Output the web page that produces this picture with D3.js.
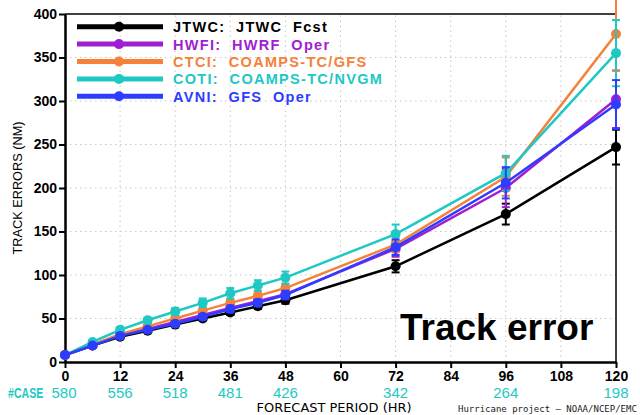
<!DOCTYPE html>
<html>
<head>
<meta charset="utf-8">
<script src="https://cdn.jsdelivr.net/npm/d3@7"></script>
<style>
  html, body { margin: 0; padding: 0; background: #fff; }
  svg { display: block; }
  text { font-family: "Liberation Sans", Arial, sans-serif; }
</style>
</head>
<body>
<svg id="chart" width="640" height="415"></svg>
<script>
// Forecast lead times (hours) and homogeneous case counts
const hours = [0, 6, 12, 18, 24, 30, 36, 42, 48, 72, 96, 120];
const caseHours = [0, 12, 24, 36, 48, 72, 96, 120];
const caseCounts = [580, 556, 518, 481, 426, 342, 264, 198];

// Mean track errors (NM) per model
const jtwc = [8, 19, 29, 36, 43, 50, 57, 64, 71, 110, 170, 247];
const hwfi = [8, 19, 31, 38, 46, 54, 62, 70, 78, 130, 200, 302];
const ctci = [8, 20, 32, 41, 50, 59, 68, 76, 85, 135, 213, 377];
const coti = [8, 23, 37, 48, 58, 68, 79, 88, 97, 147, 217, 355];
const avni = [8, 19, 30, 37, 44, 52, 61, 68, 77, 132, 206, 296];

// Half-width of the confidence bars (NM)
const jtwcErr = [1, 1, 2, 2, 2, 2, 3, 3, 4, 7, 12, 20];
const hwfiErr = [1, 1, 2, 2, 3, 3, 4, 4, 5, 9, 22, 33];
const ctciErr = [1, 1, 2, 2, 3, 3, 4, 5, 5, 9, 22, 42];
const cotiErr = [1, 2, 3, 3, 4, 5, 6, 6, 7, 11, 20, 38];
const avniErr = [1, 1, 2, 2, 3, 3, 4, 4, 5, 9, 18, 28];

const xTicks = [0, 12, 24, 36, 48, 60, 72, 84, 96, 108, 120];
const yTicks = [0, 50, 100, 150, 200, 250, 300, 350, 400];

const series = [
  { label: "JTWC:  JTWC  Fcst", color: "#000000", values: jtwc, err: jtwcErr },
  { label: "HWFI:  HWRF  Oper", color: "#a01ed2", values: hwfi, err: hwfiErr },
  { label: "CTCI:  COAMPS-TC/GFS", color: "#f5823a", values: ctci, err: ctciErr },
  { label: "COTI:  COAMPS-TC/NVGM", color: "#1ec8c3", values: coti, err: cotiErr },
  { label: "AVNI:  GFS  Oper", color: "#2d3cff", values: avni, err: avniErr }
];

const svg = d3.select("#chart");
const margin = { left: 65, right: 24, top: 14, bottom: 53 };
const W = 640, H = 415;
const x = d3.scaleLinear().domain([0, 120]).range([margin.left, W - margin.right]);
const y = d3.scaleLinear().domain([0, 400]).range([H - margin.bottom, margin.top]);

// dotted grid
const grid = svg.append("g");
grid.selectAll("line.gx").data(xTicks.slice(1, -1)).join("line")
  .attr("x1", d => x(d)).attr("x2", d => x(d))
  .attr("y1", y(0)).attr("y2", y(400))
  .attr("stroke", "#c8c8c8").attr("stroke-width", 1).attr("stroke-dasharray", "1.5,3.5");
grid.selectAll("line.gy").data(yTicks.slice(1, -1)).join("line")
  .attr("x1", x(0)).attr("x2", x(120))
  .attr("y1", d => y(d)).attr("y2", d => y(d))
  .attr("stroke", "#c8c8c8").attr("stroke-width", 1).attr("stroke-dasharray", "1.5,3.5");

// frame: thin top/right, heavy axes
svg.append("line").attr("x1", x(0)).attr("x2", x(120)).attr("y1", y(400)).attr("y2", y(400))
  .attr("stroke", "#000").attr("stroke-width", 1.5);
svg.append("line").attr("x1", x(120)).attr("x2", x(120)).attr("y1", y(400)).attr("y2", y(0))
  .attr("stroke", "#000").attr("stroke-width", 1.5);

const xAxis = svg.append("g").attr("transform", `translate(0,${y(0)})`)
  .call(d3.axisBottom(x).tickValues(xTicks).tickSize(6).tickPadding(3).tickSizeOuter(0));
const yAxis = svg.append("g").attr("transform", `translate(${x(0)},0)`)
  .call(d3.axisLeft(y).tickValues(yTicks).tickSize(6).tickPadding(2).tickSizeOuter(0));
[xAxis, yAxis].forEach(a => {
  a.select(".domain").attr("stroke", "#000").attr("stroke-width", 2.5);
  a.selectAll(".tick line").attr("stroke", "#000").attr("stroke-width", 2);
  a.selectAll(".tick text").attr("fill", "#000")
    .style("font-family", "'Liberation Sans', Arial, sans-serif")
    .style("font-size", "14px").style("font-weight", "bold");
});

// series lines, error bars and markers
const line = d3.line().x((d, i) => x(hours[i])).y(d => y(d));
series.forEach(s => {
  const g = svg.append("g");
  g.append("path").datum(s.values).attr("d", line)
    .attr("fill", "none").attr("stroke", s.color).attr("stroke-width", 2.5);
  const bars = g.selectAll("g.eb").data(s.values.map((v, i) => ({ h: hours[i], v, e: s.err[i] }))).join("g");
  bars.append("line")
    .attr("x1", d => x(d.h)).attr("x2", d => x(d.h))
    .attr("y1", d => y(d.v - d.e)).attr("y2", d => y(d.v + d.e))
    .attr("stroke", s.color).attr("stroke-width", 2);
  [-1, 1].forEach(sign => {
    bars.append("line")
      .attr("x1", d => x(d.h) - 4).attr("x2", d => x(d.h) + 4)
      .attr("y1", d => y(d.v + sign * d.e)).attr("y2", d => y(d.v + sign * d.e))
      .attr("stroke", s.color).attr("stroke-width", 2);
  });
  g.selectAll("circle").data(s.values).join("circle")
    .attr("cx", (d, i) => x(hours[i])).attr("cy", d => y(d)).attr("r", 5)
    .attr("fill", s.color);
});

// legend
const legend = svg.append("g");
series.forEach((s, i) => {
  const ly = 26.7 + i * 17.4;
  legend.append("line").attr("x1", 77).attr("x2", 163).attr("y1", ly).attr("y2", ly)
    .attr("stroke", s.color).attr("stroke-width", 5);
  legend.append("circle").attr("cx", 119).attr("cy", ly).attr("r", 5).attr("fill", s.color);
  legend.append("text").attr("x", 173).attr("y", ly + 5.5)
    .attr("fill", s.color).style("font-size", "14.5px").style("font-weight", "bold")
    .style("letter-spacing", "1.3px").style("white-space", "pre").text(s.label);
});

// case counts row (condensed "#CASE" prefix)
svg.append("g").attr("transform", "translate(8,398) scale(0.76,1)")
  .append("text").attr("x", 0).attr("y", 0)
  .attr("fill", "#1ec8c3").style("font-size", "14px").style("font-weight", "bold")
  .text("#CASE");
svg.append("g").selectAll("text").data(caseCounts).join("text")
  .attr("x", (d, i) => x(caseHours[i]) + (i === 0 ? -1 : 0)).attr("y", 398).attr("text-anchor", "middle")
  .attr("fill", "#1ec8c3").style("font-size", "15px").text(d => d);

// axis titles
svg.append("text").attr("x", 334).attr("y", 412).attr("text-anchor", "middle")
  .attr("fill", "#000").style("font-family", "'DejaVu Sans', sans-serif").style("font-size", "12.5px")
  .attr("textLength", 155).attr("lengthAdjust", "spacingAndGlyphs")
  .text("FORECAST PERIOD (HR)");
svg.append("text").attr("transform", "translate(22,188) rotate(-90)").attr("text-anchor", "middle")
  .attr("fill", "#000").style("font-size", "12.5px")
  .attr("textLength", 133).attr("lengthAdjust", "spacingAndGlyphs")
  .text("TRACK ERRORS (NM)");

svg.append("text").attr("x", 458).attr("y", 412)
  .attr("fill", "#222").style("font-family", "'DejaVu Sans Mono', monospace").style("font-size", "9px")
  .text("Hurricane project \u2013 NOAA/NCEP/EMC");

// panel title
svg.append("text").attr("x", 400).attr("y", 340)
  .attr("fill", "#000").style("font-size", "37px").style("font-weight", "bold")
  .text("Track error");
</script>
</body>
</html>
